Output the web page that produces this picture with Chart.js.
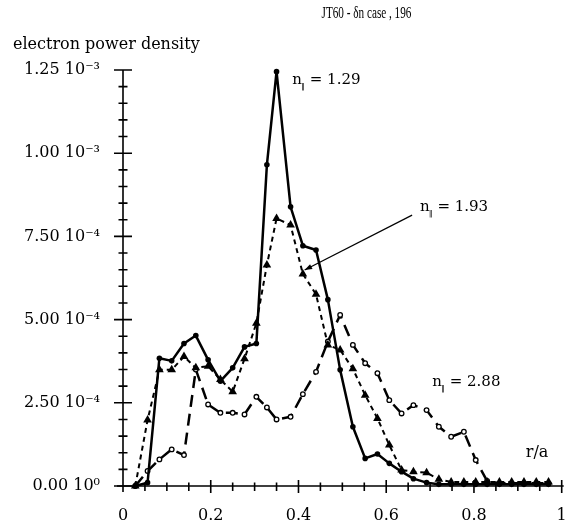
<!DOCTYPE html>
<html>
<head>
<meta charset="utf-8">
<script src="https://cdn.jsdelivr.net/npm/chart.js@4.4.0/dist/chart.umd.min.js"></script>
<style>
  html, body { margin: 0; padding: 0; background: #fff; }
  #wrap { width: 567px; height: 523px; }
</style>
</head>
<body>
<div id="wrap"><canvas id="chart" width="567" height="523"></canvas></div>
<script>
// r/a positions shared by the three runs
const rOverA = [0.028, 0.056, 0.083, 0.111, 0.139, 0.166, 0.194, 0.222, 0.250, 0.277,
  0.304, 0.328, 0.350, 0.382, 0.410, 0.440, 0.467, 0.495, 0.524, 0.552,
  0.580, 0.607, 0.635, 0.662, 0.692, 0.720, 0.748, 0.777, 0.804, 0.830,
  0.858, 0.886, 0.914, 0.942, 0.970];

// electron power density, in units of 1e-4
const powerN129 = [0.0, 0.1, 3.84, 3.76, 4.28, 4.52, 3.79, 3.15, 3.55, 4.18,
  4.28, 9.65, 12.45, 8.39, 7.22, 7.09, 5.60, 3.49, 1.78, 0.83,
  0.96, 0.68, 0.43, 0.22, 0.10, 0.05, 0.05, 0.05, 0.05, 0.05,
  0.05, 0.05, 0.05, 0.05, 0.05];
const powerN193 = [0.0, 1.98, 3.49, 3.49, 3.89, 3.55, 3.60, 3.20, 2.83, 3.82,
  4.89, 6.64, 8.04, 7.84, 6.37, 5.76, 4.24, 4.09, 3.52, 2.73,
  2.03, 1.23, 0.48, 0.43, 0.40, 0.20, 0.12, 0.12, 0.12, 0.12,
  0.12, 0.12, 0.12, 0.12, 0.12];
const powerN288 = [0.0, 0.45, 0.80, 1.10, 0.93, 3.50, 2.45, 2.20, 2.20, 2.15,
  2.68, 2.36, 2.00, 2.08, 2.76, 3.43, 4.34, 5.14, 4.24, 3.69,
  3.39, 2.58, 2.18, 2.43, 2.28, 1.78, 1.48, 1.63, 0.78, 0.15,
  0.08, 0.08, 0.08, 0.08, 0.08];

const xTickLabels = ['0', '0.2', '0.4', '0.6', '0.8', '1'];
const yTickLabels = ['0.00 10\u2070', '2.50 10\u207B\u2074', '5.00 10\u207B\u2074',
  '7.50 10\u207B\u2074', '1.00 10\u207B\u00B3', '1.25 10\u207B\u00B3'];

const SERIF = '"DejaVu Serif", serif';

function pairs(ys) {
  return rOverA.map((r, i) => ({ x: r, y: ys[i] }));
}

function drawNpar(ctx, px, py, value) {
  ctx.textAlign = 'left';
  ctx.textBaseline = 'middle';
  ctx.font = '15px ' + SERIF;
  ctx.fillText('n', px, py);
  const w = ctx.measureText('n').width;
  ctx.font = '8px ' + SERIF;
  ctx.fillText('\u2016', px + w - 1, py + 7);
  const w2 = ctx.measureText('\u2016').width;
  ctx.font = '15px ' + SERIF;
  ctx.fillText(' = ' + value, px + w + w2 - 1, py);
}

const paperAxes = {
  id: 'paperAxes',
  beforeDraw(chart) {
    const ctx = chart.ctx;
    ctx.save();
    ctx.fillStyle = '#fff';
    ctx.fillRect(0, 0, chart.width, chart.height);
    ctx.restore();
  },
  afterDraw(chart) {
    const { ctx, scales: { x, y } } = chart;
    const x0 = x.getPixelForValue(0);
    const y0 = y.getPixelForValue(0);
    ctx.save();
    ctx.strokeStyle = '#000';
    ctx.fillStyle = '#000';
    ctx.lineWidth = 1.6;

    // axis lines
    ctx.beginPath();
    ctx.moveTo(x0, y.getPixelForValue(12.5));
    ctx.lineTo(x0, y0 + 6);
    ctx.moveTo(x0 - 6, y0);
    ctx.lineTo(x.getPixelForValue(1) + 2, y0);
    ctx.stroke();

    // y ticks: minor every 0.5, major every 2.5
    ctx.beginPath();
    for (let k = 0; k <= 25; k++) {
      const py = y.getPixelForValue(k * 0.5);
      const len = k % 5 === 0 ? 9 : 4.5;
      ctx.moveTo(x0 - len, py);
      ctx.lineTo(x0 + len, py);
    }
    // x ticks: minor every 0.05, major every 0.2
    for (let k = 1; k <= 20; k++) {
      const px = x.getPixelForValue(k * 0.05);
      const major = k % 4 === 0;
      ctx.moveTo(px, y0 - (major ? 6 : 3.5));
      ctx.lineTo(px, y0 + (major ? 7 : 5));
    }
    ctx.stroke();

    // title, set in a narrow face
    ctx.save();
    ctx.translate(x.getPixelForValue(0.555), 14);
    ctx.scale(0.7, 1);
    ctx.textBaseline = 'middle';
    ctx.textAlign = 'center';
    ctx.font = '16px "Liberation Serif", serif';
    ctx.fillText('JT60 - \u03B4n case , 196', 0, 0);
    ctx.restore();

    ctx.textBaseline = 'middle';
    ctx.textAlign = 'left';
    ctx.font = '16px ' + SERIF;
    ctx.fillText('electron power density', 13, 45);
    ctx.fillText('r/a', x.getPixelForValue(0.918), y.getPixelForValue(0.99));

    drawNpar(ctx, x.getPixelForValue(0.386), y.getPixelForValue(12.2), '1.29');
    drawNpar(ctx, x.getPixelForValue(0.677), y.getPixelForValue(8.38), '1.93');
    drawNpar(ctx, x.getPixelForValue(0.705), y.getPixelForValue(3.13), '2.88');

    // pointer from the 1.93 label to its curve
    const ax = x.getPixelForValue(0.659), ay = y.getPixelForValue(8.14);
    const bx = x.getPixelForValue(0.414), by = y.getPixelForValue(6.49);
    ctx.lineWidth = 1.2;
    ctx.beginPath();
    ctx.moveTo(ax, ay);
    ctx.lineTo(bx, by);
    ctx.stroke();
    const ang = Math.atan2(by - ay, bx - ax);
    ctx.beginPath();
    ctx.moveTo(bx, by);
    ctx.lineTo(bx - 8 * Math.cos(ang - 0.35), by - 8 * Math.sin(ang - 0.35));
    ctx.lineTo(bx - 8 * Math.cos(ang + 0.35), by - 8 * Math.sin(ang + 0.35));
    ctx.closePath();
    ctx.fill();
    ctx.restore();
  }
};

new Chart(document.getElementById('chart'), {
  type: 'line',
  data: {
    datasets: [
      {
        label: 'n\u2016 = 1.29',
        data: pairs(powerN129),
        borderColor: '#000',
        borderWidth: 2.5,
        borderJoinStyle: 'round',
        pointStyle: 'circle',
        pointRadius: 2.8,
        pointBackgroundColor: '#000',
        pointBorderWidth: 0,
        tension: 0,
        clip: false
      },
      {
        label: 'n\u2016 = 1.93',
        data: pairs(powerN193),
        borderColor: '#000',
        borderWidth: 2,
        borderDash: [5, 4],
        borderJoinStyle: 'round',
        pointStyle: 'triangle',
        pointRadius: 5,
        pointBackgroundColor: '#000',
        pointBorderColor: '#000',
        pointBorderWidth: 0,
        tension: 0,
        clip: false
      },
      {
        label: 'n\u2016 = 2.88',
        data: pairs(powerN288),
        borderColor: '#000',
        borderWidth: 2.5,
        borderDash: [12, 7],
        borderJoinStyle: 'round',
        pointStyle: 'circle',
        pointRadius: 2.3,
        pointBackgroundColor: '#fff',
        pointBorderColor: '#000',
        pointBorderWidth: 1.3,
        tension: 0,
        clip: false
      }
    ]
  },
  options: {
    responsive: false,
    animation: false,
    devicePixelRatio: 1,
    layout: { padding: { top: 70, right: 5, left: 0, bottom: 0 } },
    plugins: {
      legend: { display: false },
      tooltip: { enabled: false }
    },
    scales: {
      x: {
        type: 'linear',
        min: 0,
        max: 1,
        grid: { display: false, drawTicks: false },
        border: { display: false },
        ticks: {
          stepSize: 0.2,
          padding: 20,
          maxRotation: 0,
          color: '#000',
          font: { family: SERIF, size: 16 },
          callback: (v, i) => xTickLabels[i]
        },
        afterFit(scale) {
          scale.height = 37;
          // tick padding would otherwise widen the side margins
          scale.paddingLeft = 0;
          scale.paddingRight = 0;
        }
      },
      y: {
        min: 0,
        max: 12.5,
        grid: { display: false, drawTicks: false },
        border: { display: false },
        ticks: {
          stepSize: 2.5,
          padding: 23,
          color: '#000',
          font: { family: SERIF, size: 16 },
          callback: (v, i) => yTickLabels[i]
        },
        afterFit(scale) { scale.width = 123; }
      }
    }
  },
  plugins: [paperAxes]
});
</script>
</body>
</html>
